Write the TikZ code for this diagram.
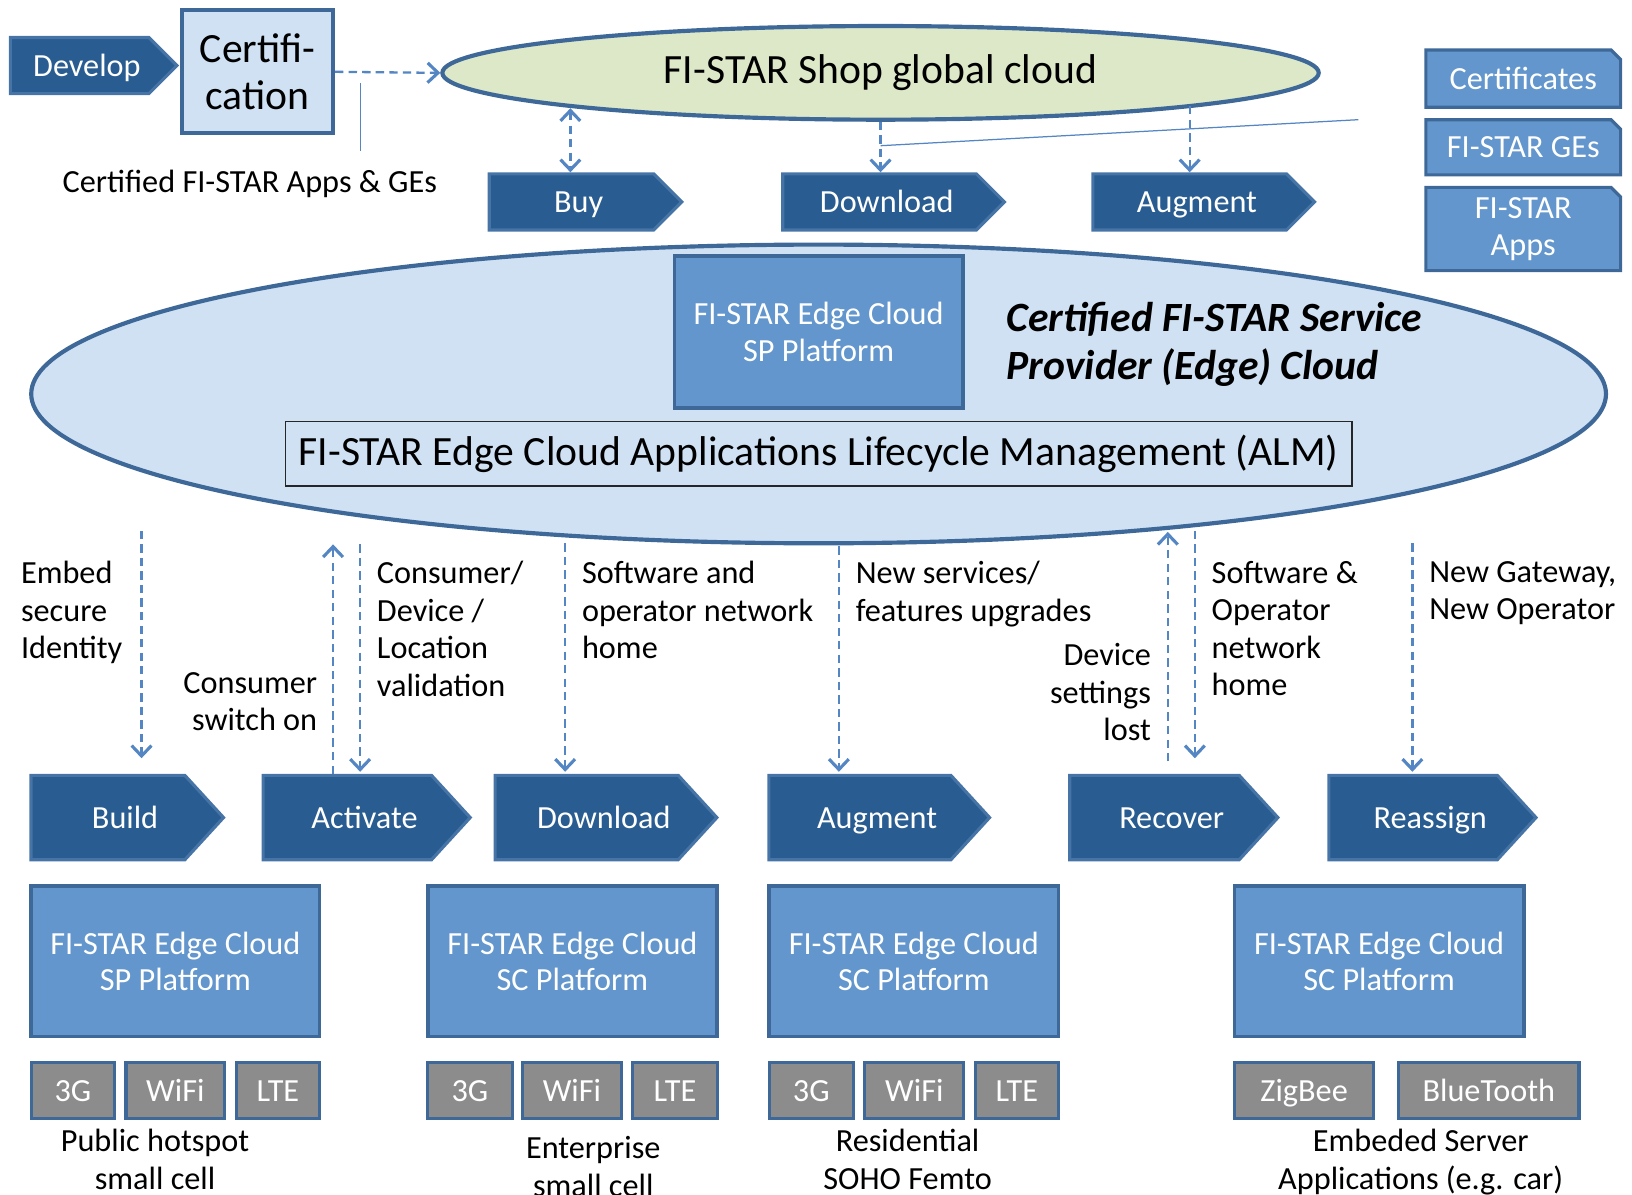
\documentclass[tikz,border=0pt]{standalone}
\usepackage{fontspec}
\setmainfont{Carlito}
\usetikzlibrary{arrows.meta,positioning,shapes.geometric,shapes.symbols,shapes.misc}

\definecolor{chevfill}{RGB}{41,92,144}
\definecolor{chevline}{RGB}{70,116,166}
\definecolor{midblue}{RGB}{98,150,204}
\definecolor{edgeline}{RGB}{62,104,152}
\definecolor{lightblue}{RGB}{207,225,243}
\definecolor{shopgreen}{RGB}{221,232,200}
\definecolor{netgray}{RGB}{140,140,140}
\definecolor{arrowblue}{RGB}{84,134,196}

\tikzset{
  chev/.style={signal, signal to=east, signal pointer angle=90, fill=chevfill, draw=chevline,
    line width=3pt, text=white, inner sep=0pt, minimum height=54pt, text height=23pt, text depth=2pt,
    execute at begin node=\hspace*{14pt}, font=\fontsize{31}{36}\selectfont},
  chevbig/.style={chev, signal pointer angle=95, minimum height=81pt,
    execute at begin node=\hspace*{19pt}},
  platform/.style={rectangle, fill=midblue, draw=edgeline, line width=3.5pt, text=white, align=center,
    minimum width=277pt, minimum height=145pt, inner sep=0pt, font=\fontsize{31}{35}\selectfont},
  net/.style={rectangle, fill=netgray, draw=edgeline, line width=3pt, text=white, minimum height=54pt,
    inner sep=0pt, text height=22pt, text depth=2pt, font=\fontsize{31}{35}\selectfont},
  tagbox/.style={chamfered rectangle, chamfered rectangle corners=north east, chamfered rectangle xsep=6pt,
    fill=midblue, draw=edgeline, line width=3pt, text=white, align=center, inner sep=0pt,
    minimum width=187pt, font=\fontsize{31}{35}\selectfont},
  flow/.style={draw=arrowblue, line width=2.2pt, dash pattern=on 8pt off 5pt},
  lbl/.style={inner sep=0pt, align=left, font=\fontsize{31}{36}\selectfont},
  >={Straight Barb[length=10pt,width=19pt,line width=3pt]}
}

\begin{document}
\begin{tikzpicture}[x=1pt,y=-1pt]
\useasboundingbox (0,0) rectangle (1568,1148);

% shop side
\node[chev, minimum width=160pt] (develop) at (76.5,63) {Develop};
\node[rectangle, fill=lightblue, draw=edgeline, line width=4pt, minimum width=145pt, minimum height=118pt,
  align=center, inner sep=0pt, font=\fontsize{40}{46}\selectfont] (certif) at (247.5,69) {Certifi-\\cation};
\node[ellipse, fill=shopgreen, draw=edgeline, line width=4pt, minimum width=842pt, minimum height=90pt,
  inner sep=0pt, font=\fontsize{40}{46}\selectfont] (shop) at (846,70) {FI-STAR Shop global cloud};
\node[lbl, anchor=north west] (certapps) at (60,163) {Certified FI-STAR Apps \& GEs};

\node[chev, minimum width=185pt] (buy) at (549,194) {Buy};
\node[chev, minimum width=213pt] (dlTop) at (845,194) {Download};
\node[chev, minimum width=213pt] (augTop) at (1143,194) {Augment};

\node[tagbox, minimum height=55pt] (cert) at (1463.5,75.5) {Certificates};
\node[tagbox, minimum height=53pt] (ges) at (1463.5,141.5) {FI-STAR GEs};
\node[tagbox, minimum height=80pt] (apps) at (1463.5,220) {FI-STAR\\Apps};

\coordinate (calloutA) at (346,80);
\coordinate (calloutB) at (346,145);
\coordinate (tagA) at (846,140);
\coordinate (tagB) at (1305,115);
\draw[arrowblue, line width=1.2pt] (calloutA) -- (calloutB);
\draw[arrowblue, line width=1.2pt] (tagA) -- (tagB);

\draw[flow,->] (certif.east) -- (shop.west);
\coordinate (buyE) at (548,104);
\coordinate (augE) at (1143,102);
\draw[flow,<->] (buyE) -- (buyE |- buy.north);
\draw[flow,->] (shop.south) -- (shop.south |- dlTop.north);
\draw[flow,->] (augE) -- (augE |- augTop.north);

% edge cloud
\node[ellipse, fill=lightblue, draw=edgeline, line width=4pt, minimum width=1513pt, minimum height=287pt,
  inner sep=0pt] (edge) at (786.5,378.5) {};
\node[platform, minimum height=146pt] (spTop) at (786.5,319) {FI-STAR Edge Cloud\\SP Platform};
\node[inner sep=0pt, anchor=north west, align=left, font=\fontsize{40}{46}\selectfont\bfseries\itshape]
  (sptext) at (967,290) {Certified FI-STAR Service\\Provider (Edge) Cloud};
\node[rectangle, draw=black!85, line width=1.3pt, minimum width=1025pt, minimum height=62pt, inner sep=0pt,
  font=\fontsize{40}{46}\selectfont] (alm) at (786.5,436) {FI-STAR Edge Cloud Applications Lifecycle Management (ALM)};

% lifecycle steps
\node[chevbig, minimum width=185pt] (build) at (103.7,785.5) {Build};
\node[chevbig, minimum width=199pt] (activate) at (333.7,785.5) {Activate};
\node[chevbig, minimum width=213pt] (download) at (563.7,785.5) {Download};
\node[chevbig, minimum width=212pt] (augment) at (826.2,785.5) {Augment};
\node[chevbig, minimum width=200pt] (recover) at (1109.2,785.5) {Recover};
\node[chevbig, minimum width=199pt] (reassign) at (1357.7,785.5) {Reassign};

\coordinate (embedE) at (136,510);
\coordinate (actUp) at (320,523);
\coordinate (actDn) at (346,523);
\coordinate (dlE) at (543,522);
\coordinate (augBE) at (806,525);
\coordinate (recUp) at (1122,511);
\coordinate (recDn) at (1148,510);
\coordinate (reaE) at (1357,522);
\draw[flow,->,shorten >=15pt] (embedE) -- (embedE |- build.north);
\draw[flow,->] (actUp |- activate.north) -- (actUp);
\draw[flow,->,shorten >=2pt] (actDn) -- (actDn |- activate.north);
\draw[flow,->,shorten >=2pt] (dlE) -- (dlE |- download.north);
\draw[flow,->,shorten >=2pt] (augBE) -- (augBE |- augment.north);
\draw[flow,->,shorten <=12pt] (recUp |- recover.north) -- (recUp);
\draw[flow,->,shorten >=15pt] (recDn) -- (recDn |- recover.north);
\draw[flow,->,shorten >=2pt] (reaE) -- (reaE |- reassign.north);

\node[lbl, anchor=north west] (embedT) at (20,539) {Embed\\secure\\Identity};
\node[lbl, anchor=north east, align=right] (switchT) at (305,646) {Consumer\\switch on};
\node[lbl, anchor=north west] (validT) at (362,539) {Consumer/\\Device /\\Location\\validation};
\node[lbl, anchor=north west] (swT) at (559,539) {Software and\\operator network\\home};
\node[lbl, anchor=north west] (newT) at (822,539) {New services/\\features upgrades};
\node[lbl, anchor=north east, align=right] (lostT) at (1106,618) {Device\\settings\\lost};
\node[lbl, anchor=north west] (homeT) at (1164,539) {Software \&\\Operator\\network\\home};
\node[lbl, anchor=north west] (gwT) at (1373,539) {New Gateway,\\New Operator};

% platforms
\node[platform] (sp1) at (168.5,923.5) {FI-STAR Edge Cloud\\SP Platform};
\node[platform, minimum width=278pt] (sc1) at (550,923.5) {FI-STAR Edge Cloud\\SC Platform};
\node[platform, minimum width=278pt] (sc2) at (878,923.5) {FI-STAR Edge Cloud\\SC Platform};
\node[platform, minimum width=278pt] (sc3) at (1325,923.5) {FI-STAR Edge Cloud\\SC Platform};

\node[net, minimum width=80pt] (g1a) at (70,1048) {3G};
\node[net, minimum width=95pt] (g1b) at (168.5,1048) {WiFi};
\node[net, minimum width=80pt] (g1c) at (267,1048) {LTE};
\node[net, minimum width=81pt] (g2a) at (451.5,1048) {3G};
\node[net, minimum width=95pt] (g2b) at (549.5,1048) {WiFi};
\node[net, minimum width=81pt] (g2c) at (648.5,1048) {LTE};
\node[net, minimum width=81pt] (g3a) at (779.5,1048) {3G};
\node[net, minimum width=95pt] (g3b) at (878.5,1048) {WiFi};
\node[net, minimum width=80pt] (g3c) at (977,1048) {LTE};
\node[net, minimum width=134pt] (zig) at (1253,1048) {ZigBee};
\node[net, minimum width=173pt] (bt) at (1430.5,1048) {BlueTooth};

\node[lbl, anchor=north, align=center] (pubT) at (149,1085) {Public hotspot\\small cell};
\node[lbl, anchor=north, align=center] (entT) at (570,1092) {Enterprise\\small cell};
\node[lbl, anchor=north, align=center] (resT) at (872,1085) {Residential\\SOHO Femto};
\node[lbl, anchor=north, align=center] (embT) at (1365,1085) {Embeded Server\\Applications (e.g. car)};
\end{tikzpicture}
\end{document}
